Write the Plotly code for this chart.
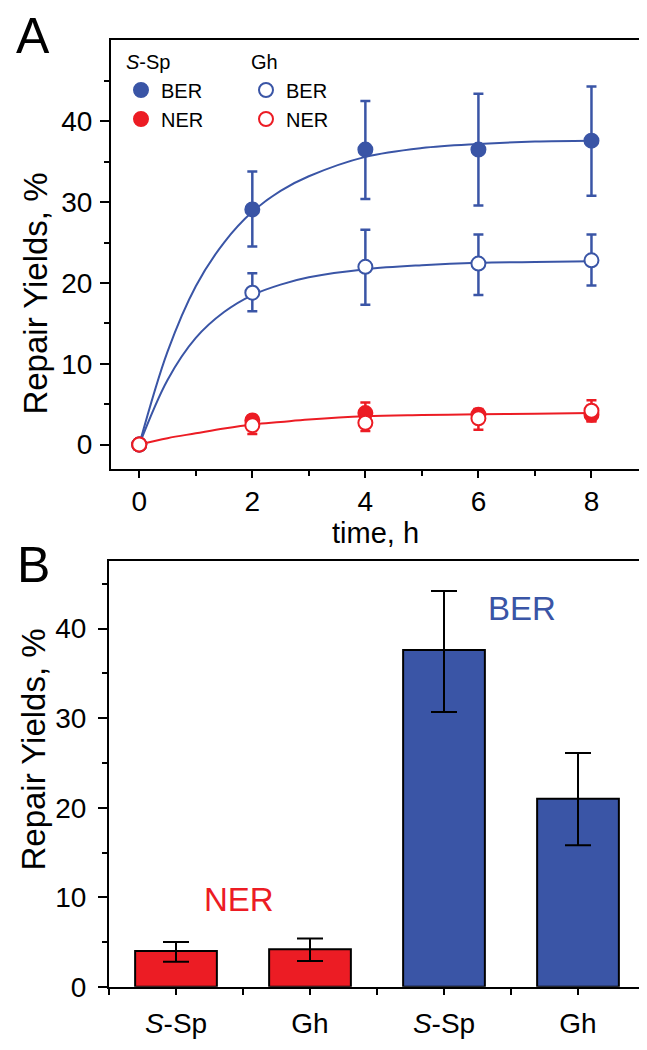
import plotly.graph_objects as go

# ---------------- data: panel A (time course) ----------------
t = [0, 2, 4, 6, 8]
ssp_ber = [0, 29.1, 36.5, 36.5, 37.6]
ssp_ber_hi = [0, 4.7, 6.0, 6.9, 6.7]
ssp_ber_lo = [0, 4.6, 6.1, 6.9, 6.8]
gh_ber = [0, 18.8, 22.0, 22.4, 22.8]
gh_ber_hi = [0, 2.4, 4.6, 3.6, 3.2]
gh_ber_lo = [0, 2.3, 4.7, 3.9, 3.1]
ssp_ner = [0, 3.0, 3.9, 3.7, 3.7]
ssp_ner_hi = [0, 0.6, 1.3, 0.7, 1.1]
ssp_ner_lo = [0, 0.6, 1.3, 0.7, 0.8]
gh_ner = [0, 2.4, 2.7, 3.25, 4.2]
gh_ner_hi = [0, 1.1, 1.0, 1.1, 1.3]
gh_ner_lo = [0, 1.1, 1.0, 1.4, 1.3]

# fitted curves
t_fit = [0, 0.5, 1, 1.5, 2, 2.5, 3, 4, 5, 6, 7, 8]
fit_ssp_ber = [0, 11.5, 19.6, 25.0, 28.8, 31.4, 33.2, 35.6, 36.7, 37.2, 37.5, 37.6]
fit_gh_ber = [0, 8.0, 13.2, 16.4, 18.5, 19.8, 20.7, 21.7, 22.2, 22.5, 22.6, 22.7]
fit_ner = [0, 0.8, 1.4, 2.0, 2.5, 2.8, 3.1, 3.5, 3.65, 3.75, 3.83, 3.9]

# ---------------- data: panel B (bars) ----------------
bar_pos = [1, 2, 3, 4]
bar_labels = ["<i>S</i>-Sp", "Gh", "<i>S</i>-Sp", "Gh"]
ner_pos = [1, 2]
ner_vals = [4.0, 4.2]
ner_hi = [1.0, 1.2]
ner_lo = [1.2, 1.3]
ber_pos = [3, 4]
ber_vals = [37.6, 21.0]
ber_hi = [6.6, 5.1]
ber_lo = [6.9, 5.2]

BLUE = "#3A55A6"
RED = "#EC1C24"
FONT = "Liberation Sans, Arial, sans-serif"

fig = go.Figure()

# fit curves
for yv, c in [(fit_ssp_ber, BLUE), (fit_gh_ber, BLUE), (fit_ner, RED)]:
    fig.add_trace(go.Scatter(x=t_fit, y=yv, mode="lines", line=dict(color=c, width=2, shape="spline"),
                             showlegend=False, hoverinfo="skip", xaxis="x", yaxis="y"))

def pts(y, hi, lo, color, filled, name, group, gtitle, legend, rank):
    return go.Scatter(
        x=t, y=y, mode="markers", name=name, legendrank=rank,
        marker=dict(size=14, symbol="circle",
                    color=color if filled else "white",
                    line=dict(color=color, width=2)),
        error_y=dict(type="data", symmetric=False, array=hi, arrayminus=lo,
                     color=color, thickness=2.5, width=5),
        legendgroup=group, legendgrouptitle=dict(text=gtitle, font=dict(size=20, family=FONT, color="black")),
        legend=legend, xaxis="x", yaxis="y")

fig.add_trace(pts(ssp_ber, ssp_ber_hi, ssp_ber_lo, BLUE, True, "BER", "ssp", "<i>S</i>-Sp", "legend", 1))
fig.add_trace(pts(gh_ber, gh_ber_hi, gh_ber_lo, BLUE, False, "BER", "gh", "Gh", "legend2", 1))
fig.add_trace(pts(ssp_ner, ssp_ner_hi, ssp_ner_lo, RED, True, "NER", "ssp", "<i>S</i>-Sp", "legend", 2))
fig.add_trace(pts(gh_ner, gh_ner_hi, gh_ner_lo, RED, False, "NER", "gh", "Gh", "legend2", 2))

# bars
fig.add_trace(go.Bar(x=ner_pos, y=ner_vals, width=0.61, marker=dict(color=RED, line=dict(color="black", width=2)),
                     error_y=dict(type="data", symmetric=False, array=ner_hi, arrayminus=ner_lo,
                                  color="black", thickness=2, width=13),
                     showlegend=False, xaxis="x2", yaxis="y2"))
fig.add_trace(go.Bar(x=ber_pos, y=ber_vals, width=0.61, marker=dict(color=BLUE, line=dict(color="black", width=2)),
                     error_y=dict(type="data", symmetric=False, array=ber_hi, arrayminus=ber_lo,
                                  color="black", thickness=2, width=13),
                     showlegend=False, xaxis="x2", yaxis="y2"))

W, H = 647, 1050
def px(x):
    return x / W
def py(y):
    return 1 - y / H

axis_common = dict(showline=True, linecolor="black", linewidth=2, mirror=True, ticks="outside",
                   tickwidth=2, tickcolor="black", showgrid=False, zeroline=False,
                   tickfont=dict(size=28, family=FONT, color="black"))
minor_y = dict(tickvals=[5, 15, 25, 35, 45], ticklen=5, ticks="outside", tickwidth=2, tickcolor="black")

layout = dict(
    width=W, height=H, margin=dict(l=0, r=0, t=0, b=0),
    paper_bgcolor="white", plot_bgcolor="white", barmode="overlay",
    font=dict(family=FONT, color="black"),
    xaxis=dict(domain=[px(103), px(640)], anchor="y", range=[-0.5, 9], tickvals=[0, 2, 4, 6, 8], ticklen=7,
               minor=dict(tickvals=[1, 3, 5, 7], ticklen=5, ticks="outside", tickwidth=2, tickcolor="black"),
               **axis_common),
    yaxis=dict(domain=[py(468), py(33)], anchor="x", range=[-3, 50], tickvals=[0, 10, 20, 30, 40], ticklen=9,
               ticklabelstandoff=2, minor=minor_y, **axis_common),
    xaxis2=dict(domain=[px(101), px(637)], anchor="y2", range=[0.5, 4.5], tickvals=bar_pos, ticktext=bar_labels,
                ticklen=6, ticklabelstandoff=5,
                minor=dict(tickvals=[0.5, 1.5, 2.5, 3.5, 4.5], ticklen=6, ticks="outside",
                           tickwidth=2, tickcolor="black"),
                **axis_common),
    yaxis2=dict(domain=[py(994), py(562)], anchor="x2", range=[0, 47.5], tickvals=[0, 10, 20, 30, 40], ticklen=9,
                ticklabelstandoff=6, minor=minor_y, **axis_common),
    legend=dict(x=px(113), y=py(34), xanchor="left", yanchor="top", bgcolor="rgba(0,0,0,0)",
                font=dict(size=20, family=FONT, color="black"), tracegroupgap=0, itemclick=False),
    legend2=dict(x=px(238), y=py(34), xanchor="left", yanchor="top", bgcolor="rgba(0,0,0,0)",
                 font=dict(size=20, family=FONT, color="black"), tracegroupgap=0, itemclick=False),
    showlegend=True,
)
fig.update_layout(**layout)

ann = [
    dict(text="A", x=px(25), y=py(28), size=50),
    dict(text="B", x=px(25), y=py(566), size=50),
    dict(text="Repair Yields, %", x=px(28), y=py(290), textangle=-90, size=33),
    dict(text="Repair Yields, %", x=px(26), y=py(753), textangle=-90, size=33),
    dict(text="time, h", x=px(367), y=py(533), size=29),
]
for a in ann:
    fig.add_annotation(xref="paper", yref="paper", showarrow=False, xanchor="center", yanchor="middle",
                       text=a["text"], x=a["x"], y=a["y"], textangle=a.get("textangle", 0),
                       font=dict(family=FONT, color="black", size=a["size"]))

fig.add_annotation(text="NER", x=1.47, y=9.7, xref="x2", yref="y2", showarrow=False,
                   font=dict(family=FONT, color=RED, size=33))
fig.add_annotation(text="BER", x=3.58, y=42.3, xref="x2", yref="y2", showarrow=False,
                   font=dict(family=FONT, color=BLUE, size=33))

fig.write_html("out.html")
